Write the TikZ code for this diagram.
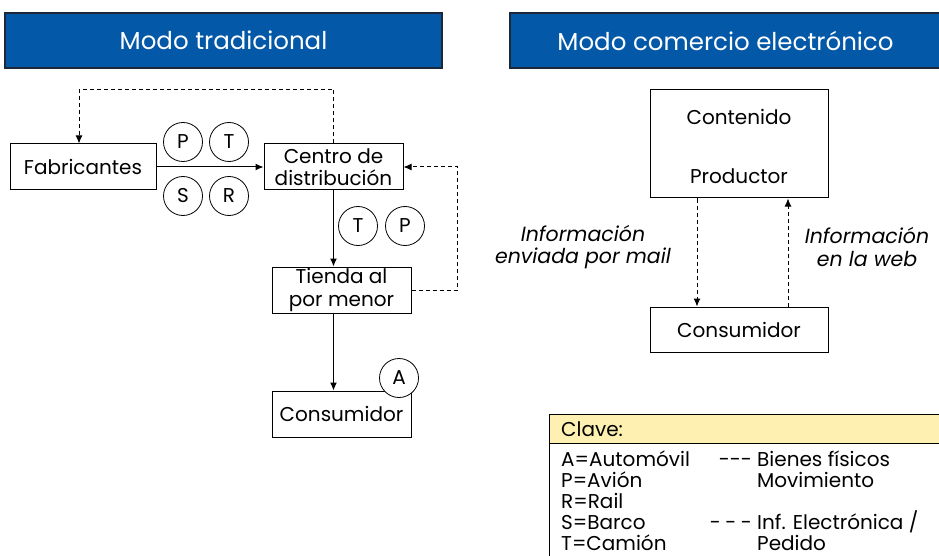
\documentclass[tikz,border=0pt]{standalone}
\usepackage{fontspec}
\setmainfont{Poppins}
\usetikzlibrary{arrows.meta}

\definecolor{titleblue}{RGB}{4,88,168}
\definecolor{titleedge}{RGB}{28,40,56}
\definecolor{keyyellow}{RGB}{253,240,176}

\tikzset{
  every node/.style={font=\fontsize{20}{22.5}\selectfont},
  titlebox/.style={draw=titleedge, line width=1.2pt, fill=titleblue, text=white,
    minimum height=55pt, font=\fontsize{24.5}{28}\selectfont},
  box/.style={draw, line width=1pt, inner sep=0pt, align=center, minimum height=46pt},
  circ/.style={draw, circle, line width=0.8pt, inner sep=0pt, minimum size=39pt},
  flow/.style={line width=1pt, -{Latex[length=8pt,width=7pt]}},
  info/.style={line width=1pt, dashed, dash pattern=on 4pt off 3pt, -{Latex[length=8pt,width=7pt]}},
  keytext/.style={anchor=base west, inner sep=0pt},
  keydash/.style={anchor=base east, inner sep=0pt},
}

\begin{document}
\begin{tikzpicture}[x=1pt, y=-1pt]
  \useasboundingbox (0,0) rectangle (939,556);

  % cabeceras
  \node[titlebox, minimum width=437pt] (tradicional) at (223.5,40.5) {Modo tradicional};
  \node[titlebox, minimum width=431pt] (electronico) at (725.5,40.5) {Modo comercio electrónico};

  % modo tradicional
  \node[box, minimum width=146pt] (fab) at (83,167) {Fabricantes};
  \node[box, minimum width=139pt] (centro) at (333.5,167) {Centro de\\distribución};
  \node[box, minimum width=139pt] (tienda) at (341.5,290) {Tienda al\\por menor};
  \node[box, minimum width=139pt] (cons) at (341.5,414) {Consumidor};

  \node[circ] (p1) at (183,142) {P};
  \node[circ] (t1) at (229,142) {T};
  \node[circ] (s1) at (183,196) {S};
  \node[circ] (r1) at (229,196) {R};
  \node[circ] (t2) at (358,226) {T};
  \node[circ] (p2) at (405,226) {P};
  \node[circ, fill=white] (a1) at (399,378) {A};

  \draw[flow] (fab) -- (centro);
  \draw[flow] (centro.south) -- (centro.south |- tienda.north);
  \draw[flow] (tienda.south -| centro.south) -- (cons.north -| centro.south);
  \draw[info] (centro.north) -- ++(0,-54) -| ([xshift=-4pt]fab.north);
  \draw[info] (tienda.east) -- ++(46,0) |- (centro.east);

  % modo comercio electronico
  \node[box, minimum width=178pt, minimum height=108pt] (productor) at (739,144) {};
  \node (contenido) at (739,117) {Contenido};
  \node (prodlbl) at (739,176) {Productor};
  \node[box, minimum width=178pt, minimum height=45pt] (cons2) at (739,329.5) {Consumidor};

  \draw[info] ([xshift=-42pt]productor.south) -- ([xshift=-42pt]productor.south |- cons2.north);
  \draw[info] ([xshift=49pt]cons2.north) -- ([xshift=49pt]cons2.north |- productor.south);

  \node[align=center, font=\fontsize{20.5}{22.5}\selectfont\itshape] (mail) at (583,247) {Información\\enviada por mail};
  \node[align=center, font=\fontsize{20.5}{22.5}\selectfont\itshape] (web) at (867,247) {Información\\en la web};

  % clave
  \draw[line width=1pt, fill=keyyellow] (549,414) rectangle (945,443);
  \draw[line width=1pt] (549,443) rectangle (945,565);
  \node[keytext] (clave) at (561,436) {Clave:};
  \node[keytext] (ka) at (561,466) {A=Automóvil};
  \node[keytext] (kp) at (561,487) {P=Avión};
  \node[keytext] (kr) at (561,508) {R=Rail};
  \node[keytext] (ks) at (561,529) {S=Barco};
  \node[keytext] (kt) at (561,550) {T=Camión};
  \node[keydash] (ksolid) at (752,466) {-{}-{}-};
  \node[keytext] (kbienes) at (757,466) {Bienes físicos};
  \node[keytext] (kmov) at (757,487) {Movimiento};
  \node[keydash] (kdash) at (752,529) {-\kern4.5pt-\kern4.5pt-};
  \node[keytext] (kinf) at (757,529) {Inf. Electrónica /};
  \node[keytext] (kped) at (757,550) {Pedido};
\end{tikzpicture}
\end{document}
